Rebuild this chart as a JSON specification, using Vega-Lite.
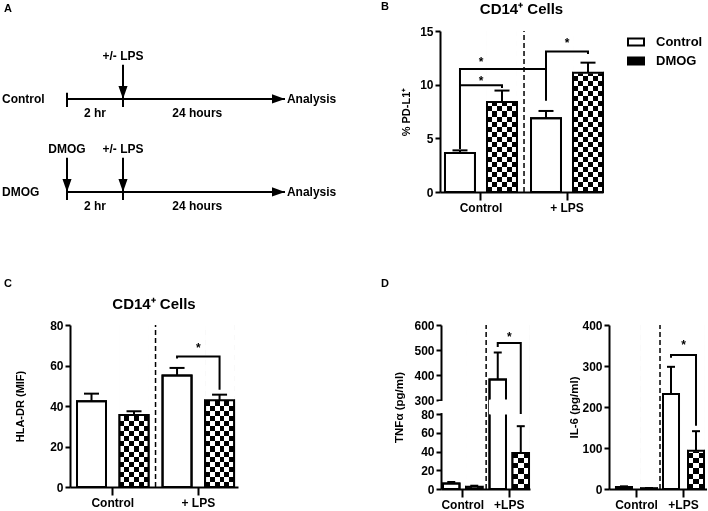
{
"$schema": "https://vega.github.io/schema/vega-lite/v6.json",
"padding": {"left": 2, "right": 0, "top": 1, "bottom": 0},
"background": "white",
"config": {
  "font": "Liberation Sans",
  "view": {"stroke": null},
  "axis": {"domainColor": "black", "domainWidth": 2, "tickColor": "black", "tickWidth": 2, "tickSize": 5, "labelFont": "Liberation Sans", "labelFontSize": 12, "labelFontWeight": "bold", "labelColor": "black", "titleFont": "Liberation Sans", "titleFontSize": 11, "titleFontWeight": "bold", "titleColor": "black", "grid": false, "labelPadding": 2, "labelOverlap": false},
  "axisX": {"tickSize": 8, "labelAngle": 0, "labelPadding": 2},
  "title": {"font": "Liberation Sans", "fontWeight": "bold", "fontSize": 11, "color": "black", "anchor": "start", "frame": "group"},
  "legend": {"labelFont": "Liberation Sans"},
  "text": {"font": "Liberation Sans", "fontWeight": "bold", "fontSize": 12, "color": "black"},
  "rule": {"color": "black"},
  "tick": {"color": "black"},
  "line": {"color": "black"}
},
"datasets": {
  "Aline": [{"t":0,"t2":26,"y":1},{"t":0,"t2":26,"y":2}],
  "Avert": [{"t":0,"y":0.935,"y2":1.086},{"t":2,"y":0.634,"y2":1.086},{"t":0,"y":1.634,"y2":2.086},{"t":2,"y":1.634,"y2":2.086}],
  "Adown": [{"t":2,"y":1},{"t":0,"y":2},{"t":2,"y":2}],
  "Aright": [{"t":26,"y":1},{"t":26,"y":2}],
  "Atext": [{"t":2,"y":0.538,"label":"+/- LPS"},{"t":0,"y":1.538,"label":"DMOG"},{"t":2,"y":1.538,"label":"+/- LPS"},{"t":1,"y":1.15,"label":"2 hr"},{"t":1,"y":2.15,"label":"2 hr"},{"t":13,"y":1.15,"label":"24 hours"},{"t":13,"y":2.15,"label":"24 hours"}],
  "Aleft": [{"t":-1,"y":1,"label":"Control"},{"t":-1,"y":2,"label":"DMOG"},{"t":26.035,"y":1,"label":"Analysis"},{"t":26.035,"y":2,"label":"Analysis"}],
  "Bbars": [{"g":"Control","s":"Control","v":3.63,"e":3.88},{"g":"Control","s":"DMOG","v":8.39,"e":9.45},{"g":"+ LPS","s":"Control","v":6.86,"e":7.55},{"g":"+ LPS","s":"DMOG","v":11.1,"e":12.05}],
  "Bbr": [{"b":1,"o":1,"g":"Control","s":"Control","y":4.0},{"b":1,"o":2,"g":"Control","s":"Control","y":11.46},{"b":1,"o":3,"g":"+ LPS","s":"Control","y":11.46},{"b":1,"o":4,"g":"+ LPS","s":"Control","y":11.2},
          {"b":2,"o":1,"g":"Control","s":"Control","y":9.94},{"b":2,"o":2,"g":"Control","s":"DMOG","y":9.94},{"b":2,"o":3,"g":"Control","s":"DMOG","y":9.7},
          {"b":3,"o":1,"g":"+ LPS","s":"Control","y":8.5},{"b":3,"o":2,"g":"+ LPS","s":"Control","y":13.1},{"b":3,"o":3,"g":"+ LPS","s":"DMOG","y":13.1},{"b":3,"o":4,"g":"+ LPS","s":"DMOG","y":12.85}],
  "Bstar": [{"g":"Control","y":12.12},{"g":"Control","y":10.33},{"g":"+ LPS","y":13.9}],
  "Cbars": [{"g":"Control","s":"Control","v":42.3,"e":46.1},{"g":"Control","s":"DMOG","v":35.5,"e":37.4},{"g":"+ LPS","s":"Control","v":55.1,"e":58.8},{"g":"+ LPS","s":"DMOG","v":42.8,"e":45.6}],
  "Cbr": [{"b":1,"o":1,"g":"+ LPS","s":"Control","y":63.5},{"b":1,"o":2,"g":"+ LPS","s":"Control","y":64.5},{"b":1,"o":3,"g":"+ LPS","s":"DMOG","y":64.5},{"b":1,"o":4,"g":"+ LPS","s":"DMOG","y":48}],
  "Cstar": [{"g":"+ LPS","y":68.8}],
  "Tbars": [{"g":"Control","s":"Control","v":6,"e":7.5},{"g":"Control","s":"DMOG","v":2.5,"e":3.5},{"g":"+LPS","s":"Control","v":382,"e":490},{"g":"+LPS","s":"DMOG","v":38.4,"e":67}],
  "Tbr": [{"b":1,"o":1,"g":"+LPS","s":"Control","y":512},{"b":1,"o":2,"g":"+LPS","s":"Control","y":528},{"b":1,"o":3,"g":"+LPS","s":"DMOG","y":528},{"b":1,"o":4,"g":"+LPS","s":"DMOG","y":80}],
  "Tstar": [{"g":"+LPS","y":554}],
  "Ibars": [{"g":"Control","s":"Control","v":5,"e":6.5},{"g":"Control","s":"DMOG","v":2,"e":2.5},{"g":"+LPS","s":"Control","v":232,"e":298},{"g":"+LPS","s":"DMOG","v":93,"e":141}],
  "Ibr": [{"b":1,"o":1,"g":"+LPS","s":"Control","y":320},{"b":1,"o":2,"g":"+LPS","s":"Control","y":327},{"b":1,"o":3,"g":"+LPS","s":"DMOG","y":327},{"b":1,"o":4,"g":"+LPS","s":"DMOG","y":154}],
  "Istar": [{"g":"+LPS","y":352}]
},
"spacing": 61,
"resolve": {"scale": {"xOffset": "independent", "fill": "independent"}, "legend": {"fill": "independent"}},
"vconcat": [
 {"hconcat": [
  {
   "title": {"text": "A", "offset": 17, "dx": -66},
   "width": 270, "height": 186,
   "encoding": {
     "x": {"field": "t", "type": "quantitative", "scale": {"domain": [-1, 0, 2, 26, 27], "range": [-68, -3, 53, 215, 270], "zero": false, "nice": false}, "axis": null},
     "y": {"field": "y", "type": "quantitative", "scale": {"domain": [0.27, 2.27], "range": [0, 186], "zero": false, "nice": false}, "axis": null}
   },
   "layer": [
     {"data": {"name": "Aline"}, "mark": {"type": "rule", "strokeWidth": 2}, "encoding": {"x2": {"field": "t2"}}},
     {"data": {"name": "Avert"}, "mark": {"type": "rule", "strokeWidth": 2}, "encoding": {"y2": {"field": "y2"}}},
     {"data": {"name": "Adown"}, "mark": {"type": "point", "shape": "M-0.7,-2L0.7,-2L0,0Z", "size": 169, "filled": true, "opacity": 1, "color": "black"}},
     {"data": {"name": "Aright"}, "mark": {"type": "point", "shape": "M-2,-0.7L0,0L-2,0.7Z", "size": 169, "filled": true, "opacity": 1, "color": "black"}},
     {"data": {"name": "Atext"}, "mark": {"type": "text", "align": "center", "baseline": "middle"}, "encoding": {"text": {"field": "label"}}},
     {"data": {"name": "Aleft"}, "mark": {"type": "text", "align": "left", "baseline": "middle"}, "encoding": {"text": {"field": "label"}}}
   ]
  },
  {"title": {"text": "B", "offset": -10.5, "dx": -59},
   "resolve": {"scale": {"xOffset": "independent", "fill": "independent"}, "legend": {"fill": "independent"}},
   "vconcat": [
  {
   "title": {"text": "CD14⁺ Cells", "anchor": "middle", "fontSize": 15, "offset": 8.5},
   "width": 163, "height": 161,
   "encoding": {"x": {"field": "g", "type": "nominal", "sort": null, "scale": {"domain": ["Control", "+ LPS"], "paddingInner": 0.163, "paddingOuter": 0.029, "align": 1}, "axis": {"title": null}}},
   "layer": [
     {"data": {"name": "Bbars"}, "mark": {"type": "bar", "stroke": "black", "strokeWidth": 2},
      "encoding": {"xOffset": {"field": "s", "type": "nominal", "scale": {"domain": ["Control", "DMOG"], "paddingInner": 0.286, "paddingOuter": 0}},
        "y": {"field": "v", "type": "quantitative", "stack": null, "title": "% PD-L1⁺", "scale": {"domain": [0, 15], "nice": false}, "axis": {"values": [0, 5, 10, 15], "titlePadding": 8}},
        "fill": {"field": "s", "type": "nominal", "scale": {"domain": ["Control", "DMOG"], "range": ["white", "black"]},
          "legend": {"title": null, "orient": "right", "offset": 22, "symbolType": "M-1,-0.45H1V0.45H-1Z", "symbolSize": 256, "symbolStrokeColor": "black", "symbolStrokeWidth": 2, "labelFontSize": 13, "labelFontWeight": "bold", "labelColor": "black", "labelOffset": 11, "rowPadding": 2, "padding": 2}}}},
     {"data": {"name": "Bbars"}, "transform": [{"filter": "datum.s === 'DMOG'"}],
      "mark": {"type": "bar", "stroke": null, "fill": {"gradient": "linear", "x1": 0, "y1": 0, "x2": 0, "y2": 1, "stops": [
{"offset":0,"color":"black"},{"offset":0.03125,"color":"black"},{"offset":0.03125,"color":"white"},{"offset":0.0625,"color":"white"},
{"offset":0.0625,"color":"black"},{"offset":0.09375,"color":"black"},{"offset":0.09375,"color":"white"},{"offset":0.125,"color":"white"},
{"offset":0.125,"color":"black"},{"offset":0.15625,"color":"black"},{"offset":0.15625,"color":"white"},{"offset":0.1875,"color":"white"},
{"offset":0.1875,"color":"black"},{"offset":0.21875,"color":"black"},{"offset":0.21875,"color":"white"},{"offset":0.25,"color":"white"},
{"offset":0.25,"color":"black"},{"offset":0.28125,"color":"black"},{"offset":0.28125,"color":"white"},{"offset":0.3125,"color":"white"},
{"offset":0.3125,"color":"black"},{"offset":0.34375,"color":"black"},{"offset":0.34375,"color":"white"},{"offset":0.375,"color":"white"},
{"offset":0.375,"color":"black"},{"offset":0.40625,"color":"black"},{"offset":0.40625,"color":"white"},{"offset":0.4375,"color":"white"},
{"offset":0.4375,"color":"black"},{"offset":0.46875,"color":"black"},{"offset":0.46875,"color":"white"},{"offset":0.5,"color":"white"},
{"offset":0.5,"color":"black"},{"offset":0.53125,"color":"black"},{"offset":0.53125,"color":"white"},{"offset":0.5625,"color":"white"},
{"offset":0.5625,"color":"black"},{"offset":0.59375,"color":"black"},{"offset":0.59375,"color":"white"},{"offset":0.625,"color":"white"},
{"offset":0.625,"color":"black"},{"offset":0.65625,"color":"black"},{"offset":0.65625,"color":"white"},{"offset":0.6875,"color":"white"},
{"offset":0.6875,"color":"black"},{"offset":0.71875,"color":"black"},{"offset":0.71875,"color":"white"},{"offset":0.75,"color":"white"},
{"offset":0.75,"color":"black"},{"offset":0.78125,"color":"black"},{"offset":0.78125,"color":"white"},{"offset":0.8125,"color":"white"},
{"offset":0.8125,"color":"black"},{"offset":0.84375,"color":"black"},{"offset":0.84375,"color":"white"},{"offset":0.875,"color":"white"},
{"offset":0.875,"color":"black"},{"offset":0.90625,"color":"black"},{"offset":0.90625,"color":"white"},{"offset":0.9375,"color":"white"},
{"offset":0.9375,"color":"black"},{"offset":0.96875,"color":"black"},{"offset":0.96875,"color":"white"},{"offset":1,"color":"white"}]}},
      "encoding": {"xOffset": {"field": "s", "type": "nominal"}, "y": {"datum": 0, "type": "quantitative", "title": "% PD-L1⁺"}, "y2": {"datum": 15}}},
     {"data": {"name": "Bbars"}, "transform": [{"filter": "datum.s === 'DMOG'"}],
      "mark": {"type": "bar", "stroke": null, "blend": "difference", "fill": {"gradient": "linear", "x1": 0, "y1": 0, "x2": 1, "y2": 0, "stops": [
{"offset":0,"color":"white"},{"offset":0.16667,"color":"white"},{"offset":0.16667,"color":"black"},{"offset":0.33333,"color":"black"},
{"offset":0.33333,"color":"white"},{"offset":0.5,"color":"white"},{"offset":0.5,"color":"black"},{"offset":0.66667,"color":"black"},
{"offset":0.66667,"color":"white"},{"offset":0.83333,"color":"white"},{"offset":0.83333,"color":"black"},{"offset":1,"color":"black"}]}},
      "encoding": {"xOffset": {"field": "s", "type": "nominal"}, "y": {"datum": 0, "type": "quantitative", "title": "% PD-L1⁺"}, "y2": {"datum": 15}}},
     {"data": {"name": "Bbars"}, "transform": [{"filter": "datum.s === 'DMOG'"}], "mark": {"type": "bar", "fill": "white", "stroke": "white", "strokeWidth": 1},
      "encoding": {"xOffset": {"field": "s", "type": "nominal"}, "y": {"field": "v", "type": "quantitative", "stack": null, "title": "% PD-L1⁺"}, "y2": {"datum": 15}}},
     {"data": {"name": "Bbars"}, "mark": {"type": "bar", "fill": "transparent", "stroke": "black", "strokeWidth": 2},
      "encoding": {"xOffset": {"field": "s", "type": "nominal"}, "y": {"field": "v", "type": "quantitative", "stack": null, "title": "% PD-L1⁺"}}},
     {"data": {"name": "Bbars"}, "mark": {"type": "rule", "strokeWidth": 2},
      "encoding": {"xOffset": {"field": "s", "type": "nominal"}, "y": {"field": "v", "type": "quantitative", "title": "% PD-L1⁺"}, "y2": {"field": "e"}}},
     {"data": {"name": "Bbars"}, "mark": {"type": "tick", "size": 15, "thickness": 2, "opacity": 1},
      "encoding": {"xOffset": {"field": "s", "type": "nominal"}, "y": {"field": "e", "type": "quantitative", "title": "% PD-L1⁺"}}},
     {"data": {"values": [{}]}, "mark": {"type": "rule", "strokeDash": [5, 3], "strokeWidth": 1.5},
      "encoding": {"x": {"datum": "+ LPS", "type": "nominal", "bandPosition": -0.097}, "y": {"datum": 0, "type": "quantitative", "title": "% PD-L1⁺"}, "y2": {"datum": 15}}},
     {"data": {"name": "Bbr"}, "mark": {"type": "line", "strokeWidth": 2},
      "encoding": {"xOffset": {"field": "s", "type": "nominal"}, "y": {"field": "y", "type": "quantitative", "title": "% PD-L1⁺"}, "detail": {"field": "b", "type": "nominal"}, "order": {"field": "o", "type": "quantitative"}}},
     {"data": {"name": "Bstar"}, "mark": {"type": "text", "text": "*", "baseline": "middle"},
      "encoding": {"y": {"field": "y", "type": "quantitative", "title": "% PD-L1⁺"}}}
   ]
  }]}
 ], "spacing": 41,
 "resolve": {"scale": {"xOffset": "independent", "fill": "independent"}, "legend": {"fill": "independent"}}},
 {"hconcat": [
  {"title": {"text": "C", "offset": 8, "dx": -66},
   "resolve": {"scale": {"xOffset": "independent", "fill": "independent"}, "legend": {"fill": "independent"}},
   "vconcat": [
  {
   "title": {"text": "CD14⁺ Cells", "anchor": "middle", "fontSize": 15, "offset": 7},
   "width": 168, "height": 162,
   "encoding": {"x": {"field": "g", "type": "nominal", "sort": null, "scale": {"domain": ["Control", "+ LPS"], "paddingInner": 0.164, "paddingOuter": 0.064, "align": 0.64}, "axis": {"title": null}}},
   "layer": [
     {"data": {"name": "Cbars"}, "mark": {"type": "bar", "fill": "white", "stroke": "black", "strokeWidth": 2},
      "encoding": {"xOffset": {"field": "s", "type": "nominal", "scale": {"domain": ["Control", "DMOG"], "paddingInner": 0.318, "paddingOuter": 0}},
        "y": {"field": "v", "type": "quantitative", "stack": null, "title": "HLA-DR (MIF)", "scale": {"domain": [0, 80], "nice": false}, "axis": {"values": [0, 20, 40, 60, 80], "titlePadding": 24}}}},
     {"data": {"name": "Cbars"}, "transform": [{"filter": "datum.s === 'DMOG'"}],
      "mark": {"type": "bar", "stroke": null, "fill": {"gradient": "linear", "x1": 0, "y1": 0, "x2": 0, "y2": 1, "stops": [
{"offset":0,"color":"black"},{"offset":0.03125,"color":"black"},{"offset":0.03125,"color":"white"},{"offset":0.0625,"color":"white"},
{"offset":0.0625,"color":"black"},{"offset":0.09375,"color":"black"},{"offset":0.09375,"color":"white"},{"offset":0.125,"color":"white"},
{"offset":0.125,"color":"black"},{"offset":0.15625,"color":"black"},{"offset":0.15625,"color":"white"},{"offset":0.1875,"color":"white"},
{"offset":0.1875,"color":"black"},{"offset":0.21875,"color":"black"},{"offset":0.21875,"color":"white"},{"offset":0.25,"color":"white"},
{"offset":0.25,"color":"black"},{"offset":0.28125,"color":"black"},{"offset":0.28125,"color":"white"},{"offset":0.3125,"color":"white"},
{"offset":0.3125,"color":"black"},{"offset":0.34375,"color":"black"},{"offset":0.34375,"color":"white"},{"offset":0.375,"color":"white"},
{"offset":0.375,"color":"black"},{"offset":0.40625,"color":"black"},{"offset":0.40625,"color":"white"},{"offset":0.4375,"color":"white"},
{"offset":0.4375,"color":"black"},{"offset":0.46875,"color":"black"},{"offset":0.46875,"color":"white"},{"offset":0.5,"color":"white"},
{"offset":0.5,"color":"black"},{"offset":0.53125,"color":"black"},{"offset":0.53125,"color":"white"},{"offset":0.5625,"color":"white"},
{"offset":0.5625,"color":"black"},{"offset":0.59375,"color":"black"},{"offset":0.59375,"color":"white"},{"offset":0.625,"color":"white"},
{"offset":0.625,"color":"black"},{"offset":0.65625,"color":"black"},{"offset":0.65625,"color":"white"},{"offset":0.6875,"color":"white"},
{"offset":0.6875,"color":"black"},{"offset":0.71875,"color":"black"},{"offset":0.71875,"color":"white"},{"offset":0.75,"color":"white"},
{"offset":0.75,"color":"black"},{"offset":0.78125,"color":"black"},{"offset":0.78125,"color":"white"},{"offset":0.8125,"color":"white"},
{"offset":0.8125,"color":"black"},{"offset":0.84375,"color":"black"},{"offset":0.84375,"color":"white"},{"offset":0.875,"color":"white"},
{"offset":0.875,"color":"black"},{"offset":0.90625,"color":"black"},{"offset":0.90625,"color":"white"},{"offset":0.9375,"color":"white"},
{"offset":0.9375,"color":"black"},{"offset":0.96875,"color":"black"},{"offset":0.96875,"color":"white"},{"offset":1,"color":"white"}]}},
      "encoding": {"xOffset": {"field": "s", "type": "nominal"}, "y": {"datum": 0, "type": "quantitative", "title": "HLA-DR (MIF)"}, "y2": {"datum": 80}}},
     {"data": {"name": "Cbars"}, "transform": [{"filter": "datum.s === 'DMOG'"}],
      "mark": {"type": "bar", "stroke": null, "blend": "difference", "fill": {"gradient": "linear", "x1": 0, "y1": 0, "x2": 1, "y2": 0, "stops": [
{"offset":0,"color":"white"},{"offset":0.16667,"color":"white"},{"offset":0.16667,"color":"black"},{"offset":0.33333,"color":"black"},
{"offset":0.33333,"color":"white"},{"offset":0.5,"color":"white"},{"offset":0.5,"color":"black"},{"offset":0.66667,"color":"black"},
{"offset":0.66667,"color":"white"},{"offset":0.83333,"color":"white"},{"offset":0.83333,"color":"black"},{"offset":1,"color":"black"}]}},
      "encoding": {"xOffset": {"field": "s", "type": "nominal"}, "y": {"datum": 0, "type": "quantitative", "title": "HLA-DR (MIF)"}, "y2": {"datum": 80}}},
     {"data": {"name": "Cbars"}, "transform": [{"filter": "datum.s === 'DMOG'"}], "mark": {"type": "bar", "fill": "white", "stroke": "white", "strokeWidth": 1},
      "encoding": {"xOffset": {"field": "s", "type": "nominal"}, "y": {"field": "v", "type": "quantitative", "stack": null, "title": "HLA-DR (MIF)"}, "y2": {"datum": 80}}},
     {"data": {"name": "Cbars"}, "mark": {"type": "bar", "fill": "transparent", "stroke": "black", "strokeWidth": 2},
      "encoding": {"xOffset": {"field": "s", "type": "nominal"}, "y": {"field": "v", "type": "quantitative", "stack": null, "title": "HLA-DR (MIF)"}}},
     {"data": {"name": "Cbars"}, "mark": {"type": "rule", "strokeWidth": 2},
      "encoding": {"xOffset": {"field": "s", "type": "nominal"}, "y": {"field": "v", "type": "quantitative", "title": "HLA-DR (MIF)"}, "y2": {"field": "e"}}},
     {"data": {"name": "Cbars"}, "mark": {"type": "tick", "size": 15, "thickness": 2, "opacity": 1},
      "encoding": {"xOffset": {"field": "s", "type": "nominal"}, "y": {"field": "e", "type": "quantitative", "title": "HLA-DR (MIF)"}}},
     {"data": {"values": [{}]}, "mark": {"type": "rule", "strokeDash": [5, 3], "strokeWidth": 1.5},
      "encoding": {"x": {"datum": "+ LPS", "type": "nominal", "bandPosition": -0.098}, "y": {"datum": 0, "type": "quantitative", "title": "HLA-DR (MIF)"}, "y2": {"datum": 80}}},
     {"data": {"name": "Cbr"}, "mark": {"type": "line", "strokeWidth": 2},
      "encoding": {"xOffset": {"field": "s", "type": "nominal"}, "y": {"field": "y", "type": "quantitative", "title": "HLA-DR (MIF)"}, "detail": {"field": "b", "type": "nominal"}, "order": {"field": "o", "type": "quantitative"}}},
     {"data": {"name": "Cstar"}, "mark": {"type": "text", "text": "*", "baseline": "middle"},
      "encoding": {"y": {"field": "y", "type": "quantitative", "title": "HLA-DR (MIF)"}}}
   ]
  }]},
  {"title": {"text": "D", "offset": 8, "dx": -60},
   "spacing": 37,
   "resolve": {"scale": {"xOffset": "independent", "fill": "independent"}, "legend": {"fill": "independent"}},
   "hconcat": [
  {
   "title": {"text": " ", "anchor": "middle", "fontSize": 15, "offset": 7},
   "width": 89, "height": 164,
   "encoding": {"x": {"field": "g", "type": "nominal", "sort": null, "scale": {"domain": ["Control", "+LPS"], "paddingInner": 0.15, "paddingOuter": 0.032, "align": 0.67}, "axis": {"title": null}}},
   "layer": [
     {"data": {"name": "Tbars"}, "mark": {"type": "bar", "fill": "white", "stroke": "black", "strokeWidth": 2},
      "encoding": {"xOffset": {"field": "s", "type": "nominal", "scale": {"domain": ["Control", "DMOG"], "paddingInner": 0.283, "paddingOuter": 0}},
        "y": {"field": "v", "type": "quantitative", "stack": null, "title": "TNFα (pg/ml)", "scale": {"domain": [0, 80, 300, 600], "range": [164, 89, 75, 0], "nice": false, "zero": false}, "axis": {"titleFontSize": 11.5, "values": [0, 20, 40, 60, 80, 300, 400, 500, 600], "tickCount": 20, "titlePadding": 9, "labelOverlap": false}}}},
     {"data": {"name": "Tbars"}, "transform": [{"filter": "datum.s === 'DMOG'"}],
      "mark": {"type": "bar", "stroke": null, "fill": {"gradient": "linear", "x1": 0, "y1": 0, "x2": 0, "y2": 1, "stops": [
{"offset":0,"color":"black"},{"offset":0.03125,"color":"black"},{"offset":0.03125,"color":"white"},{"offset":0.0625,"color":"white"},
{"offset":0.0625,"color":"black"},{"offset":0.09375,"color":"black"},{"offset":0.09375,"color":"white"},{"offset":0.125,"color":"white"},
{"offset":0.125,"color":"black"},{"offset":0.15625,"color":"black"},{"offset":0.15625,"color":"white"},{"offset":0.1875,"color":"white"},
{"offset":0.1875,"color":"black"},{"offset":0.21875,"color":"black"},{"offset":0.21875,"color":"white"},{"offset":0.25,"color":"white"},
{"offset":0.25,"color":"black"},{"offset":0.28125,"color":"black"},{"offset":0.28125,"color":"white"},{"offset":0.3125,"color":"white"},
{"offset":0.3125,"color":"black"},{"offset":0.34375,"color":"black"},{"offset":0.34375,"color":"white"},{"offset":0.375,"color":"white"},
{"offset":0.375,"color":"black"},{"offset":0.40625,"color":"black"},{"offset":0.40625,"color":"white"},{"offset":0.4375,"color":"white"},
{"offset":0.4375,"color":"black"},{"offset":0.46875,"color":"black"},{"offset":0.46875,"color":"white"},{"offset":0.5,"color":"white"},
{"offset":0.5,"color":"black"},{"offset":0.53125,"color":"black"},{"offset":0.53125,"color":"white"},{"offset":0.5625,"color":"white"},
{"offset":0.5625,"color":"black"},{"offset":0.59375,"color":"black"},{"offset":0.59375,"color":"white"},{"offset":0.625,"color":"white"},
{"offset":0.625,"color":"black"},{"offset":0.65625,"color":"black"},{"offset":0.65625,"color":"white"},{"offset":0.6875,"color":"white"},
{"offset":0.6875,"color":"black"},{"offset":0.71875,"color":"black"},{"offset":0.71875,"color":"white"},{"offset":0.75,"color":"white"},
{"offset":0.75,"color":"black"},{"offset":0.78125,"color":"black"},{"offset":0.78125,"color":"white"},{"offset":0.8125,"color":"white"},
{"offset":0.8125,"color":"black"},{"offset":0.84375,"color":"black"},{"offset":0.84375,"color":"white"},{"offset":0.875,"color":"white"},
{"offset":0.875,"color":"black"},{"offset":0.90625,"color":"black"},{"offset":0.90625,"color":"white"},{"offset":0.9375,"color":"white"},
{"offset":0.9375,"color":"black"},{"offset":0.96875,"color":"black"},{"offset":0.96875,"color":"white"},{"offset":1,"color":"white"}]}},
      "encoding": {"xOffset": {"field": "s", "type": "nominal"}, "y": {"datum": 0, "type": "quantitative", "title": "TNFα (pg/ml)"}, "y2": {"datum": 600}}},
     {"data": {"name": "Tbars"}, "transform": [{"filter": "datum.s === 'DMOG'"}],
      "mark": {"type": "bar", "stroke": null, "blend": "difference", "fill": {"gradient": "linear", "x1": 0, "y1": 0, "x2": 1, "y2": 0, "stops": [
{"offset":0,"color":"white"},{"offset":0.33333,"color":"white"},{"offset":0.33333,"color":"black"},{"offset":0.66667,"color":"black"},
{"offset":0.66667,"color":"white"},{"offset":1,"color":"white"}]}},
      "encoding": {"xOffset": {"field": "s", "type": "nominal"}, "y": {"datum": 0, "type": "quantitative", "title": "TNFα (pg/ml)"}, "y2": {"datum": 600}}},
     {"data": {"name": "Tbars"}, "transform": [{"filter": "datum.s === 'DMOG'"}], "mark": {"type": "bar", "fill": "white", "stroke": "white", "strokeWidth": 1},
      "encoding": {"xOffset": {"field": "s", "type": "nominal"}, "y": {"field": "v", "type": "quantitative", "stack": null, "title": "TNFα (pg/ml)"}, "y2": {"datum": 600}}},
     {"data": {"name": "Tbars"}, "mark": {"type": "bar", "fill": "transparent", "stroke": "black", "strokeWidth": 2},
      "encoding": {"xOffset": {"field": "s", "type": "nominal"}, "y": {"field": "v", "type": "quantitative", "stack": null, "title": "TNFα (pg/ml)"}}},
     {"data": {"name": "Tbars"}, "transform": [{"filter": "datum.v > 80"}], "mark": {"type": "bar", "fill": "white", "stroke": "white", "strokeWidth": 1},
      "encoding": {"y": {"datum": 80, "type": "quantitative", "title": "TNFα (pg/ml)"}, "y2": {"datum": 300}}},
     {"data": {"values": [{}]}, "mark": {"type": "rule", "strokeWidth": 5, "color": "white"},
      "encoding": {"x": {"datum": "Control", "type": "nominal", "bandPosition": -0.05}, "y": {"datum": 95, "type": "quantitative", "title": "TNFα (pg/ml)"}, "y2": {"datum": 285}}},
     {"data": {"name": "Tbars"}, "mark": {"type": "rule", "strokeWidth": 2},
      "encoding": {"xOffset": {"field": "s", "type": "nominal"}, "y": {"field": "v", "type": "quantitative", "title": "TNFα (pg/ml)"}, "y2": {"field": "e"}}},
     {"data": {"name": "Tbars"}, "mark": {"type": "tick", "size": 8, "thickness": 2, "opacity": 1},
      "encoding": {"xOffset": {"field": "s", "type": "nominal"}, "y": {"field": "e", "type": "quantitative", "title": "TNFα (pg/ml)"}}},
     {"data": {"values": [{}]}, "mark": {"type": "rule", "strokeDash": [5, 3], "strokeWidth": 1.5},
      "encoding": {"x": {"datum": "+LPS", "type": "nominal", "bandPosition": -0.085}, "y": {"datum": 0, "type": "quantitative", "title": "TNFα (pg/ml)"}, "y2": {"datum": 600}}},
     {"data": {"name": "Tbr"}, "mark": {"type": "line", "strokeWidth": 2},
      "encoding": {"xOffset": {"field": "s", "type": "nominal"}, "y": {"field": "y", "type": "quantitative", "title": "TNFα (pg/ml)"}, "detail": {"field": "b", "type": "nominal"}, "order": {"field": "o", "type": "quantitative"}}},
     {"data": {"name": "Tstar"}, "mark": {"type": "text", "text": "*", "baseline": "middle"},
      "encoding": {"y": {"field": "y", "type": "quantitative", "title": "TNFα (pg/ml)"}}}
   ]
  },
  {
   "title": {"text": " ", "anchor": "middle", "fontSize": 15, "offset": 7},
   "width": 98, "height": 164,
   "encoding": {"x": {"field": "g", "type": "nominal", "sort": null, "scale": {"domain": ["Control", "+LPS"], "paddingInner": 0.128, "paddingOuter": 0.106, "align": 0.7}, "axis": {"title": null}}},
   "layer": [
     {"data": {"name": "Ibars"}, "mark": {"type": "bar", "fill": "white", "stroke": "black", "strokeWidth": 2},
      "encoding": {"xOffset": {"field": "s", "type": "nominal", "scale": {"domain": ["Control", "DMOG"], "paddingInner": 0.36, "paddingOuter": 0}},
        "y": {"field": "v", "type": "quantitative", "stack": null, "title": "IL-6 (pg/ml)", "scale": {"domain": [0, 400], "nice": false}, "axis": {"titleFontSize": 11.5, "values": [0, 100, 200, 300, 400], "titlePadding": 2}}}},
     {"data": {"name": "Ibars"}, "transform": [{"filter": "datum.s === 'DMOG'"}],
      "mark": {"type": "bar", "stroke": null, "fill": {"gradient": "linear", "x1": 0, "y1": 0, "x2": 0, "y2": 1, "stops": [
{"offset":0,"color":"black"},{"offset":0.03125,"color":"black"},{"offset":0.03125,"color":"white"},{"offset":0.0625,"color":"white"},
{"offset":0.0625,"color":"black"},{"offset":0.09375,"color":"black"},{"offset":0.09375,"color":"white"},{"offset":0.125,"color":"white"},
{"offset":0.125,"color":"black"},{"offset":0.15625,"color":"black"},{"offset":0.15625,"color":"white"},{"offset":0.1875,"color":"white"},
{"offset":0.1875,"color":"black"},{"offset":0.21875,"color":"black"},{"offset":0.21875,"color":"white"},{"offset":0.25,"color":"white"},
{"offset":0.25,"color":"black"},{"offset":0.28125,"color":"black"},{"offset":0.28125,"color":"white"},{"offset":0.3125,"color":"white"},
{"offset":0.3125,"color":"black"},{"offset":0.34375,"color":"black"},{"offset":0.34375,"color":"white"},{"offset":0.375,"color":"white"},
{"offset":0.375,"color":"black"},{"offset":0.40625,"color":"black"},{"offset":0.40625,"color":"white"},{"offset":0.4375,"color":"white"},
{"offset":0.4375,"color":"black"},{"offset":0.46875,"color":"black"},{"offset":0.46875,"color":"white"},{"offset":0.5,"color":"white"},
{"offset":0.5,"color":"black"},{"offset":0.53125,"color":"black"},{"offset":0.53125,"color":"white"},{"offset":0.5625,"color":"white"},
{"offset":0.5625,"color":"black"},{"offset":0.59375,"color":"black"},{"offset":0.59375,"color":"white"},{"offset":0.625,"color":"white"},
{"offset":0.625,"color":"black"},{"offset":0.65625,"color":"black"},{"offset":0.65625,"color":"white"},{"offset":0.6875,"color":"white"},
{"offset":0.6875,"color":"black"},{"offset":0.71875,"color":"black"},{"offset":0.71875,"color":"white"},{"offset":0.75,"color":"white"},
{"offset":0.75,"color":"black"},{"offset":0.78125,"color":"black"},{"offset":0.78125,"color":"white"},{"offset":0.8125,"color":"white"},
{"offset":0.8125,"color":"black"},{"offset":0.84375,"color":"black"},{"offset":0.84375,"color":"white"},{"offset":0.875,"color":"white"},
{"offset":0.875,"color":"black"},{"offset":0.90625,"color":"black"},{"offset":0.90625,"color":"white"},{"offset":0.9375,"color":"white"},
{"offset":0.9375,"color":"black"},{"offset":0.96875,"color":"black"},{"offset":0.96875,"color":"white"},{"offset":1,"color":"white"}]}},
      "encoding": {"xOffset": {"field": "s", "type": "nominal"}, "y": {"datum": 0, "type": "quantitative", "title": "IL-6 (pg/ml)"}, "y2": {"datum": 400}}},
     {"data": {"name": "Ibars"}, "transform": [{"filter": "datum.s === 'DMOG'"}],
      "mark": {"type": "bar", "stroke": null, "blend": "difference", "fill": {"gradient": "linear", "x1": 0, "y1": 0, "x2": 1, "y2": 0, "stops": [
{"offset":0,"color":"white"},{"offset":0.33333,"color":"white"},{"offset":0.33333,"color":"black"},{"offset":0.66667,"color":"black"},
{"offset":0.66667,"color":"white"},{"offset":1,"color":"white"}]}},
      "encoding": {"xOffset": {"field": "s", "type": "nominal"}, "y": {"datum": 0, "type": "quantitative", "title": "IL-6 (pg/ml)"}, "y2": {"datum": 400}}},
     {"data": {"name": "Ibars"}, "transform": [{"filter": "datum.s === 'DMOG'"}], "mark": {"type": "bar", "fill": "white", "stroke": "white", "strokeWidth": 1},
      "encoding": {"xOffset": {"field": "s", "type": "nominal"}, "y": {"field": "v", "type": "quantitative", "stack": null, "title": "IL-6 (pg/ml)"}, "y2": {"datum": 400}}},
     {"data": {"name": "Ibars"}, "mark": {"type": "bar", "fill": "transparent", "stroke": "black", "strokeWidth": 2},
      "encoding": {"xOffset": {"field": "s", "type": "nominal"}, "y": {"field": "v", "type": "quantitative", "stack": null, "title": "IL-6 (pg/ml)"}}},
     {"data": {"name": "Ibars"}, "mark": {"type": "rule", "strokeWidth": 2},
      "encoding": {"xOffset": {"field": "s", "type": "nominal"}, "y": {"field": "v", "type": "quantitative", "title": "IL-6 (pg/ml)"}, "y2": {"field": "e"}}},
     {"data": {"name": "Ibars"}, "mark": {"type": "tick", "size": 8, "thickness": 2, "opacity": 1},
      "encoding": {"xOffset": {"field": "s", "type": "nominal"}, "y": {"field": "e", "type": "quantitative", "title": "IL-6 (pg/ml)"}}},
     {"data": {"values": [{}]}, "mark": {"type": "rule", "strokeDash": [5, 3], "strokeWidth": 1.5},
      "encoding": {"x": {"datum": "+LPS", "type": "nominal", "bandPosition": -0.073}, "y": {"datum": 0, "type": "quantitative", "title": "IL-6 (pg/ml)"}, "y2": {"datum": 400}}},
     {"data": {"name": "Ibr"}, "mark": {"type": "line", "strokeWidth": 2},
      "encoding": {"xOffset": {"field": "s", "type": "nominal"}, "y": {"field": "y", "type": "quantitative", "title": "IL-6 (pg/ml)"}, "detail": {"field": "b", "type": "nominal"}, "order": {"field": "o", "type": "quantitative"}}},
     {"data": {"name": "Istar"}, "mark": {"type": "text", "text": "*", "baseline": "middle"},
      "encoding": {"y": {"field": "y", "type": "quantitative", "title": "IL-6 (pg/ml)"}}}
   ]
  }]}
 ], "spacing": 143,
 "resolve": {"scale": {"xOffset": "independent", "fill": "independent"}, "legend": {"fill": "independent"}}}
]
}
